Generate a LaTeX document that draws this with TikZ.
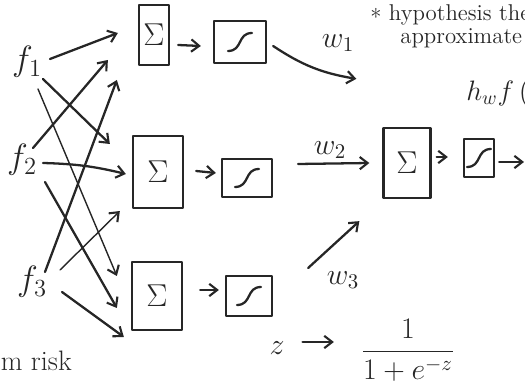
\documentclass[tikz,border=0pt]{standalone}
\usepackage{fix-cm}
\usepackage{fontspec}
\usetikzlibrary{arrows.meta}
\definecolor{ink}{HTML}{262626}
\tikzset{
  pen/.style={draw=ink, line width=1.3pt, line cap=round, line join=round},
  conn/.style={pen, -{Straight Barb[length=4.5pt,width=7pt,line width=1.2pt]}},
  faint/.style={line width=0.8pt},
  sumbox/.style={pen, rectangle, inner sep=0pt, text=ink, font=\fontsize{18}{20}\selectfont},
  sigbox/.style={pen, rectangle, inner sep=0pt, path picture={
    \draw[pen] ([shift={(-12,9)}]path picture bounding box.center)
      .. controls ([shift={(3,9)}]path picture bounding box.center)
      and ([shift={(-3,-9)}]path picture bounding box.center)
      .. ([shift={(12,-9)}]path picture bounding box.center);}},
  lbl/.style={text=ink, inner sep=1pt, font=\fontsize{20}{22}\selectfont},
  wlbl/.style={text=ink, inner sep=1pt, font=\fontsize{17}{19}\selectfont},
  note/.style={text=ink, inner sep=0pt, anchor=west, font=\fontsize{13}{14}\selectfont},
}
\begin{document}
\begin{tikzpicture}[x=0.02cm, y=-0.02cm]
\useasboundingbox (0,0) rectangle (525,391);
% inputs
\node[lbl] (f1) at (27,62) {$f_1$};
\node[lbl] (f2) at (22,160) {$f_2$};
\node[lbl] (f3) at (32,282) {$f_3$};
% hidden units
\node[sumbox, minimum width=0.6cm, minimum height=1.2cm] (s1) at (154,35) {$\Sigma$};
\node[sigbox, minimum width=1.04cm, minimum height=0.84cm] (g1) at (240,42) {};
\node[sumbox, minimum width=1.0cm, minimum height=1.44cm] (s2) at (158,172) {$\Sigma$};
\node[sigbox, minimum width=1.0cm, minimum height=0.76cm] (g2) at (247,178) {};
\node[sumbox, minimum width=1.0cm, minimum height=1.36cm] (s3) at (157,296) {$\Sigma$};
\node[sigbox, minimum width=0.92cm, minimum height=0.8cm] (g3) at (249,296) {};
% output unit
\node[sumbox, minimum width=0.94cm, minimum height=1.4cm] (o) at (407,163) {$\Sigma$};
\node[sigbox, minimum width=0.6cm, minimum height=0.76cm] (og) at (479,158) {};
\coordinate (out) at (524,162);
% input connectors
\draw[conn] ([shift={(23,-3)}]f1.center) -- ([shift={(-20,-2)}]s1.west);
\draw[conn] ([shift={(16,17)}]f1.center) -- ([shift={(-22,-28)}]s2.west);
\draw[conn, faint] ([shift={(11,27)}]f1.center) -- ([shift={(-14,-20)}]s3.west);
\draw[conn] ([shift={(11,-12)}]f2.center) -- ([shift={(-30,25)}]s1.west);
\draw[conn] ([shift={(21,3)}]f2.center) to[bend left=6] ([shift={(-6,2)}]s2.west);
\draw[conn] ([shift={(23,22)}]f2.center) -- ([shift={(-14,12)}]s3.west);
\draw[conn] ([shift={(13,-10)}]f3.center) -- ([shift={(-21,45)}]s1.west);
\draw[conn, faint] ([shift={(28,-12)}]f3.center) -- ([shift={(-12,39)}]s2.west);
\draw[conn] ([shift={(30,10)}]f3.center) -- ([shift={(-7,41)}]s3.west);
% sum -> sigmoid
\draw[conn] ([shift={(8,10)}]s1.east) -- ([shift={(-12,4)}]g1.west);
\draw[conn] ([shift={(12,-1)}]s2.east) -- ([shift={(-5,-5)}]g2.west);
\draw[conn] ([shift={(17,-6)}]s3.east) -- ([shift={(-6,-6)}]g3.west);
% weights to output
\draw[conn] ([shift={(6,4)}]g1.east) to[bend right=12] ([shift={(-26,-48)}]o.north west);
\draw[conn] ([shift={(25,-14)}]g2.east) -- ([shift={(-13,0)}]o.west);
\draw[conn] ([shift={(35,-28)}]g3.east) -- ([shift={(-23,22)}]o.south west);
\node[wlbl] (w1) at (338,43) {$w_1$};
\node[wlbl] (w2) at (330,150) {$w_2$};
\node[wlbl] (w3) at (343,280) {$w_3$};
\draw[conn] ([shift={(5,-6)}]o.east) -- ([shift={(-15,-1)}]og.west);
\draw[conn] ([shift={(4,4)}]og.east) -- (out);
% sigmoid formula
\node[wlbl] (z) at (277,348) {$z$};
\node[wlbl] (frac) at (408,350) {$\displaystyle\frac{1}{1+e^{-z}}$};
\draw[conn] ([shift={(16,-6)}]z.east) -- ([shift={(-25,-8)}]frac.west);
% notes
\node[note] (hyp) at (370,15) {\raisebox{-3pt}{*} hypothesis the};
\node[note] (approx) at (400,38) {approximate};
\node[note, font=\fontsize{16}{18}\selectfont] (hw) at (466,93) {$h_w f\,(x$};
\node[note, anchor=east, font=\fontsize{16}{18}\selectfont] (risk) at (72,361) {m risk};
\end{tikzpicture}
\end{document}
